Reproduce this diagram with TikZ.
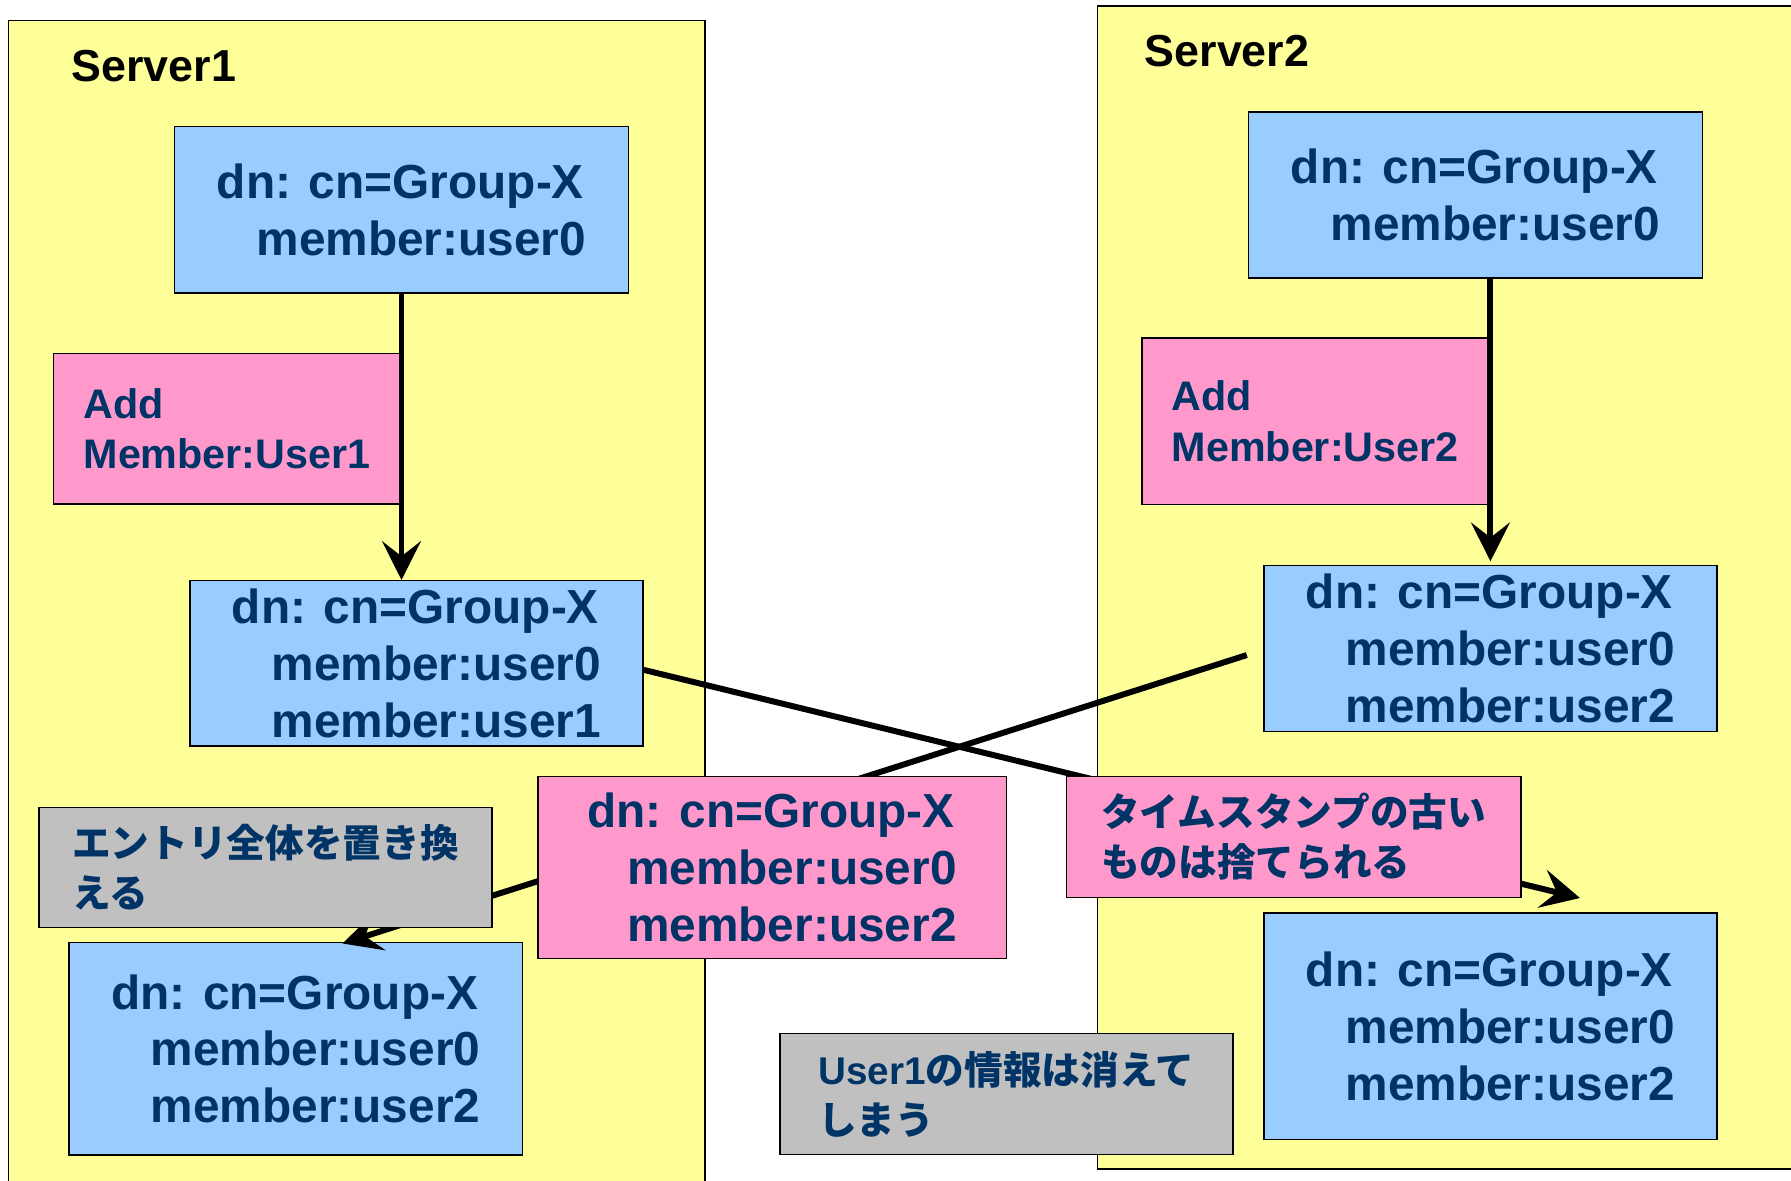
\documentclass[tikz,border=0pt]{standalone}
\usepackage{fontspec}
\setmainfont{Liberation Sans}
\newfontfamily\jpfont{Noto Sans CJK JP}
\usepackage{xcolor}
\usetikzlibrary{arrows.meta,positioning}
\definecolor{serveryellow}{HTML}{FFFF99}
\definecolor{entryblue}{HTML}{99CCFF}
\definecolor{addpink}{HTML}{FF99CC}
\definecolor{notegray}{HTML}{C0C0C0}
\definecolor{ink}{HTML}{003366}
\newcommand{\memindent}{\hspace*{0.83em}}
\tikzset{
    server/.style={draw, line width=0.8pt, fill=serveryellow},
    servername/.style={anchor=base west, inner sep=0pt, font=\bfseries\fontsize{25.5}{30}\selectfont},
    entry/.style={rectangle, draw, line width=0.8pt, fill=entryblue, text=ink, inner sep=0pt, align=left,
        font=\bfseries\fontsize{27.2}{32.3}\selectfont},
    change/.style={entry, fill=addpink, font=\bfseries\fontsize{23.5}{28.9}\selectfont},
    remark/.style={entry, fill=notegray, font=\jpfont\bfseries\fontsize{22}{28.3}\selectfont},
    flow/.style={line width=3.4pt, -{Stealth[length=22pt,width=22pt,inset=8.5pt]}}
}

\begin{document}
\begin{tikzpicture}
    \useasboundingbox (0,0) rectangle (35.82,-23.6);
    % The two servers
    \draw[server] (0.166,-0.414) rectangle (14.096,-25);
    \draw[server] (21.944,-0.12) rectangle (37,-23.38);
    \node[servername] (server1) at (1.424,-1.634) {Server1};
    \node[servername] (server2) at (22.888,-1.32) {Server2};
    % Entries on Server1
    \node[entry, minimum width=9.08cm, minimum height=3.326cm] (s1old) at (8.03,-4.198)
        {dn: cn=Group-X\\ \memindent member:user0};
    \node[change, minimum width=6.934cm, minimum height=3.014cm] (s1add) at (4.541,-8.573)
        {Add\\ Member:User1};
    \node[entry, minimum width=9.06cm, minimum height=3.306cm] (s1new) at (8.33,-13.267)
        {dn: cn=Group-X\\ \memindent member:user0\\ \memindent member:user1};
    \node[entry, minimum width=9.072cm, minimum height=4.246cm] (s1final) at (5.914,-20.977)
        {dn: cn=Group-X\\ \memindent member:user0\\ \memindent member:user2};
    % Entries on Server2
    \node[entry, minimum width=9.07cm, minimum height=3.322cm] (s2old) at (29.509,-3.897)
        {dn: cn=Group-X\\ \memindent member:user0};
    \node[change, minimum width=6.922cm, minimum height=3.334cm] (s2add) at (26.303,-8.425)
        {Add\\ Member:User2};
    \node[entry, minimum width=9.058cm, minimum height=3.322cm] (s2new) at (29.809,-12.971)
        {dn: cn=Group-X\\ \memindent member:user0\\ \memindent member:user2};
    \node[entry, minimum width=9.058cm, minimum height=4.534cm] (s2final) at (29.809,-20.527)
        {dn: cn=Group-X\\ \memindent member:user0\\ \memindent member:user2};
    % Local updates
    \draw[flow] (s1old.south) -- (s1old.south |- s1new.north);
    \draw[flow] (s2new.north |- s2old.south) -- ([yshift=0.07cm]s2new.north);
    % Replication in both directions
    \coordinate (s2start) at ([xshift=-0.33cm,yshift=-0.13cm]s2new.west);
    \coordinate (s1tip) at (6.85,-18.87);
    \coordinate (s2tip) at (31.6,-17.96);
    \draw[flow] ([yshift=-0.13cm]s1new.east) -- (s2tip);
    \draw[flow] (s2start) -- (s1tip);
    % Labels on top of the lines
    \node[change, font=\bfseries\fontsize{27.2}{32.3}\selectfont, minimum width=9.368cm, minimum height=3.638cm]
        (sent) at (15.442,-17.353)
        {dn: cn=Group-X\\ \memindent member:user0\\ \memindent member:user2};
    \node[remark, fill=addpink, minimum width=9.09cm, minimum height=2.412cm] (stamp) at (25.873,-16.74)
        {タイムスタンプの古い\\ ものは捨てられる};
    \node[remark, minimum width=9.06cm, minimum height=2.408cm] (replace) at (5.31,-17.35)
        {エントリ全体を置き換\\ える};
    \node[remark, minimum width=9.058cm, minimum height=2.412cm] (lost) at (20.127,-21.88)
        {{\rmfamily User1}の情報は消えて\\ しまう};
\end{tikzpicture}
\end{document}
